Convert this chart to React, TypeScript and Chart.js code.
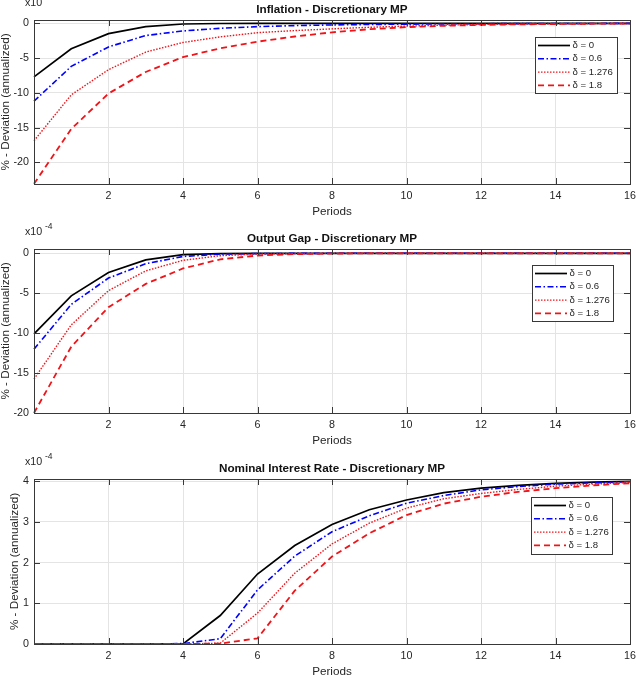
import React, { useEffect, useRef } from 'react';
import { Chart, registerables } from 'chart.js';
Chart.register(...registerables);

const periods = [0, 1, 2, 3, 4, 5, 6, 7, 8, 9, 10, 11, 12, 13, 14, 15, 16];
const deltaLabels = ['δ = 0', 'δ = 0.6', 'δ = 1.276', 'δ = 1.8'];
const xTickValues = [2, 4, 6, 8, 10, 12, 14, 16];
const inflationTickValues = [-20, -15, -10, -5, 0];
const outputGapTickValues = [-20, -15, -10, -5, 0];
const interestTickValues = [0, 1, 2, 3, 4];

const inflationD0 = [-7.7, -3.67, -1.48, -0.48, -0.1, -0.03, -0.01, 0, 0, 0, 0, 0, 0, 0, 0, 0, 0];
const inflationD06 = [-11.2, -6.2, -3.4, -1.76, -1.1, -0.72, -0.48, -0.33, -0.24, -0.17, -0.12, -0.08, -0.06, -0.04, -0.03, -0.02, -0.01];
const inflationD1276 = [-16.9, -10.3, -6.67, -4.14, -2.76, -1.95, -1.35, -1.05, -0.8, -0.57, -0.4, -0.27, -0.17, -0.12, -0.08, -0.05, -0.03];
const inflationD18 = [-23.1, -15.2, -10.1, -7.0, -4.86, -3.6, -2.64, -1.9, -1.3, -0.85, -0.55, -0.36, -0.23, -0.15, -0.1, -0.06, -0.04];

const outputGapD0 = [-10.1, -5.33, -2.4, -0.83, -0.17, -0.03, -0.01, 0, 0, 0, 0, 0, 0, 0, 0, 0, 0];
const outputGapD06 = [-12.0, -6.4, -3.1, -1.3, -0.4, -0.1, -0.03, -0.01, 0, 0, 0, 0, 0, 0, 0, 0, 0];
const outputGapD1276 = [-15.75, -8.96, -4.67, -2.2, -0.88, -0.3, -0.1, -0.03, -0.01, 0, 0, 0, 0, 0, 0, 0, 0];
const outputGapD18 = [-20.0, -11.7, -6.75, -3.83, -1.9, -0.75, -0.28, -0.1, -0.03, -0.01, 0, 0, 0, 0, 0, 0, 0];

const interestD0 = [0, 0, 0, 0, 0, 0.7, 1.72, 2.42, 2.94, 3.3, 3.54, 3.72, 3.83, 3.9, 3.95, 3.98, 4.0];
const interestD06 = [0, 0, 0, 0, 0.01, 0.13, 1.33, 2.16, 2.76, 3.15, 3.46, 3.65, 3.79, 3.87, 3.93, 3.96, 3.99];
const interestD1276 = [0, 0, 0, 0, 0, 0.02, 0.76, 1.74, 2.46, 2.97, 3.34, 3.57, 3.7, 3.8, 3.88, 3.93, 3.97];
const interestD18 = [0, 0, 0, 0, 0, 0.01, 0.14, 1.31, 2.15, 2.72, 3.17, 3.45, 3.62, 3.74, 3.83, 3.9, 3.95];

const FONT = '"Liberation Sans", Arial, Helvetica, sans-serif';
const AXIS = '#383838';
const TEXT = '#262626';
const GRID = '#e4e4e4';
const RED = 'rgb(240,20,25)';

const seriesStyles = [
  { color: '#000000', width: 1.7, dash: [] as number[] },
  { color: '#0000ff', width: 1.6, dash: [6, 2.5, 1.5, 2.5] },
  { color: RED, width: 1.4, dash: [1.5, 1.5] },
  { color: RED, width: 1.8, dash: [6, 4] },
];

type PanelCfg = {
  title: string;
  top: number;
  bottom: number;
  yMin: number;
  yMax: number;
  yTicks: number[];
  series: number[][];
  legend: { x: number; y: number; w: number; h: number };
  yLabelX: number;
};

const panels: PanelCfg[] = [
  {
    title: 'Inflation - Discretionary MP',
    top: 20, bottom: 184, yMin: -23.12, yMax: 0.475,
    yTicks: inflationTickValues,
    series: [inflationD0, inflationD06, inflationD1276, inflationD18],
    legend: { x: 535, y: 37, w: 82, h: 56 },
    yLabelX: 5.5,
  },
  {
    title: 'Output Gap - Discretionary MP',
    top: 249, bottom: 413, yMin: -20, yMax: 0.54,
    yTicks: outputGapTickValues,
    series: [outputGapD0, outputGapD06, outputGapD1276, outputGapD18],
    legend: { x: 532, y: 265, w: 81, h: 56 },
    yLabelX: 5.5,
  },
  {
    title: 'Nominal Interest Rate - Discretionary MP',
    top: 479, bottom: 644, yMin: 0, yMax: 4.056,
    yTicks: interestTickValues,
    series: [interestD0, interestD06, interestD1276, interestD18],
    legend: { x: 531, y: 497, w: 81, h: 57 },
    yLabelX: 14.5,
  },
];

function makeDecor(cfg: PanelCfg) {
  return {
    id: 'decor',
    afterDraw(chart: any) {
      const ctx: CanvasRenderingContext2D = chart.ctx;
      const a = chart.chartArea;
      const xs = chart.scales.x;
      const ys = chart.scales.y;
      ctx.save();
      // inward tick marks
      ctx.strokeStyle = AXIS;
      ctx.lineWidth = 1;
      ctx.setLineDash([]);
      ctx.beginPath();
      xTickValues.forEach((v) => {
        const px = Math.round(xs.getPixelForValue(v)) + 0.5;
        ctx.moveTo(px, a.bottom);
        ctx.lineTo(px, a.bottom - 6);
        ctx.moveTo(px, a.top);
        ctx.lineTo(px, a.top + 6);
      });
      cfg.yTicks.forEach((v) => {
        const py = Math.round(ys.getPixelForValue(v)) + 0.5;
        ctx.moveTo(a.left, py);
        ctx.lineTo(a.left + 6, py);
        ctx.moveTo(a.right, py);
        ctx.lineTo(a.right - 6, py);
      });
      ctx.stroke();
      // box
      ctx.strokeRect(a.left + 0.5, a.top + 0.5, a.right - a.left, a.bottom - a.top);

      // title
      const cx = (a.left + a.right) / 2;
      ctx.fillStyle = '#111111';
      ctx.font = `bold 11.7px ${FONT}`;
      ctx.textAlign = 'center';
      ctx.textBaseline = 'middle';
      ctx.fillText(cfg.title, cx, a.top - 10);

      // x label
      ctx.fillStyle = TEXT;
      ctx.font = `11.7px ${FONT}`;
      ctx.fillText('Periods', cx, a.bottom + 27.3);

      // y label
      ctx.save();
      ctx.translate(cfg.yLabelX, (a.top + a.bottom) / 2);
      ctx.rotate(-Math.PI / 2);
      ctx.textAlign = 'center';
      ctx.textBaseline = 'middle';
      ctx.fillText('% - Deviation (annualized)', 0, 0);
      ctx.restore();

      // exponent
      ctx.textAlign = 'left';
      ctx.textBaseline = 'alphabetic';
      ctx.font = `10.7px ${FONT}`;
      ctx.fillText('x10', 25, a.top - 14);
      ctx.font = `8.5px ${FONT}`;
      ctx.fillText('-4', 45, a.top - 20);

      // legend
      const L = cfg.legend;
      ctx.fillStyle = '#ffffff';
      ctx.fillRect(L.x, L.y, L.w, L.h);
      ctx.strokeStyle = AXIS;
      ctx.lineWidth = 1;
      ctx.strokeRect(L.x + 0.5, L.y + 0.5, L.w, L.h);
      ctx.font = `9.6px ${FONT}`;
      ctx.textBaseline = 'middle';
      deltaLabels.forEach((lab, i) => {
        const st = seriesStyles[i];
        const ry = L.y + 8.5 + i * 13.3;
        ctx.strokeStyle = st.color;
        ctx.lineWidth = st.width;
        ctx.setLineDash(st.dash);
        ctx.beginPath();
        ctx.moveTo(L.x + 3, ry);
        ctx.lineTo(L.x + 35, ry);
        ctx.stroke();
        ctx.setLineDash([]);
        ctx.fillStyle = TEXT;
        ctx.fillText(lab, L.x + 37.5, ry);
      });
      ctx.restore();
    },
  };
}

function Panel({ cfg }: { cfg: PanelCfg }) {
  const ref = useRef<HTMLCanvasElement>(null);
  useEffect(() => {
    const datasets = cfg.series.map((vals, i) => ({
      label: deltaLabels[i],
      data: periods.map((p, j) => ({ x: p, y: vals[j] })),
      borderColor: seriesStyles[i].color,
      borderWidth: seriesStyles[i].width,
      borderDash: seriesStyles[i].dash,
      backgroundColor: seriesStyles[i].color,
      pointRadius: 0,
      tension: 0,
      fill: false,
      order: 3 - i,
      clip: 4,
    }));
    const chart = new Chart(ref.current as HTMLCanvasElement, {
      type: 'line',
      data: { datasets },
      options: {
        responsive: false,
        animation: false,
        events: [],
        layout: { padding: { left: 0, right: 6, top: cfg.top, bottom: 0 } },
        plugins: {
          legend: { display: false },
          tooltip: { enabled: false },
          title: { display: false },
        },
        scales: {
          x: {
            type: 'linear',
            min: 0,
            max: 16,
            afterBuildTicks: (s: any) => {
              s.ticks = xTickValues.map((v) => ({ value: v }));
            },
            afterFit: (s: any) => {
              s.height = 690 - cfg.bottom;
              s.paddingLeft = 0;
              s.paddingRight = 0;
            },
            grid: { color: GRID, lineWidth: 1, drawTicks: false },
            border: { display: false },
            ticks: {
              padding: 6,
              autoSkip: false,
              maxRotation: 0,
              color: TEXT,
              font: { family: FONT, size: 10.7 },
              callback: (v: any) => String(v),
            },
          },
          y: {
            type: 'linear',
            min: cfg.yMin,
            max: cfg.yMax,
            afterBuildTicks: (s: any) => {
              s.ticks = cfg.yTicks.map((v) => ({ value: v }));
            },
            afterFit: (s: any) => {
              s.width = 34;
              s.paddingTop = 0;
              s.paddingBottom = 0;
            },
            grid: { color: GRID, lineWidth: 1, drawTicks: false },
            border: { display: false },
            ticks: {
              padding: 5,
              color: TEXT,
              font: { family: FONT, size: 10.7 },
              callback: (v: any) => String(v),
            },
          },
        },
      } as any,
      plugins: [makeDecor(cfg)],
    });
    return () => chart.destroy();
  }, [cfg]);
  return (
    <canvas
      ref={ref}
      width={636}
      height={690}
      style={{ position: 'absolute', left: 0, top: 0, width: 636, height: 690 }}
    />
  );
}

export default function App() {
  return (
    <div style={{ position: 'absolute', left: 0, top: 0, width: 636, height: 690, background: '#ffffff' }}>
      {panels.map((p) => (
        <Panel key={p.title} cfg={p} />
      ))}
    </div>
  );
}
